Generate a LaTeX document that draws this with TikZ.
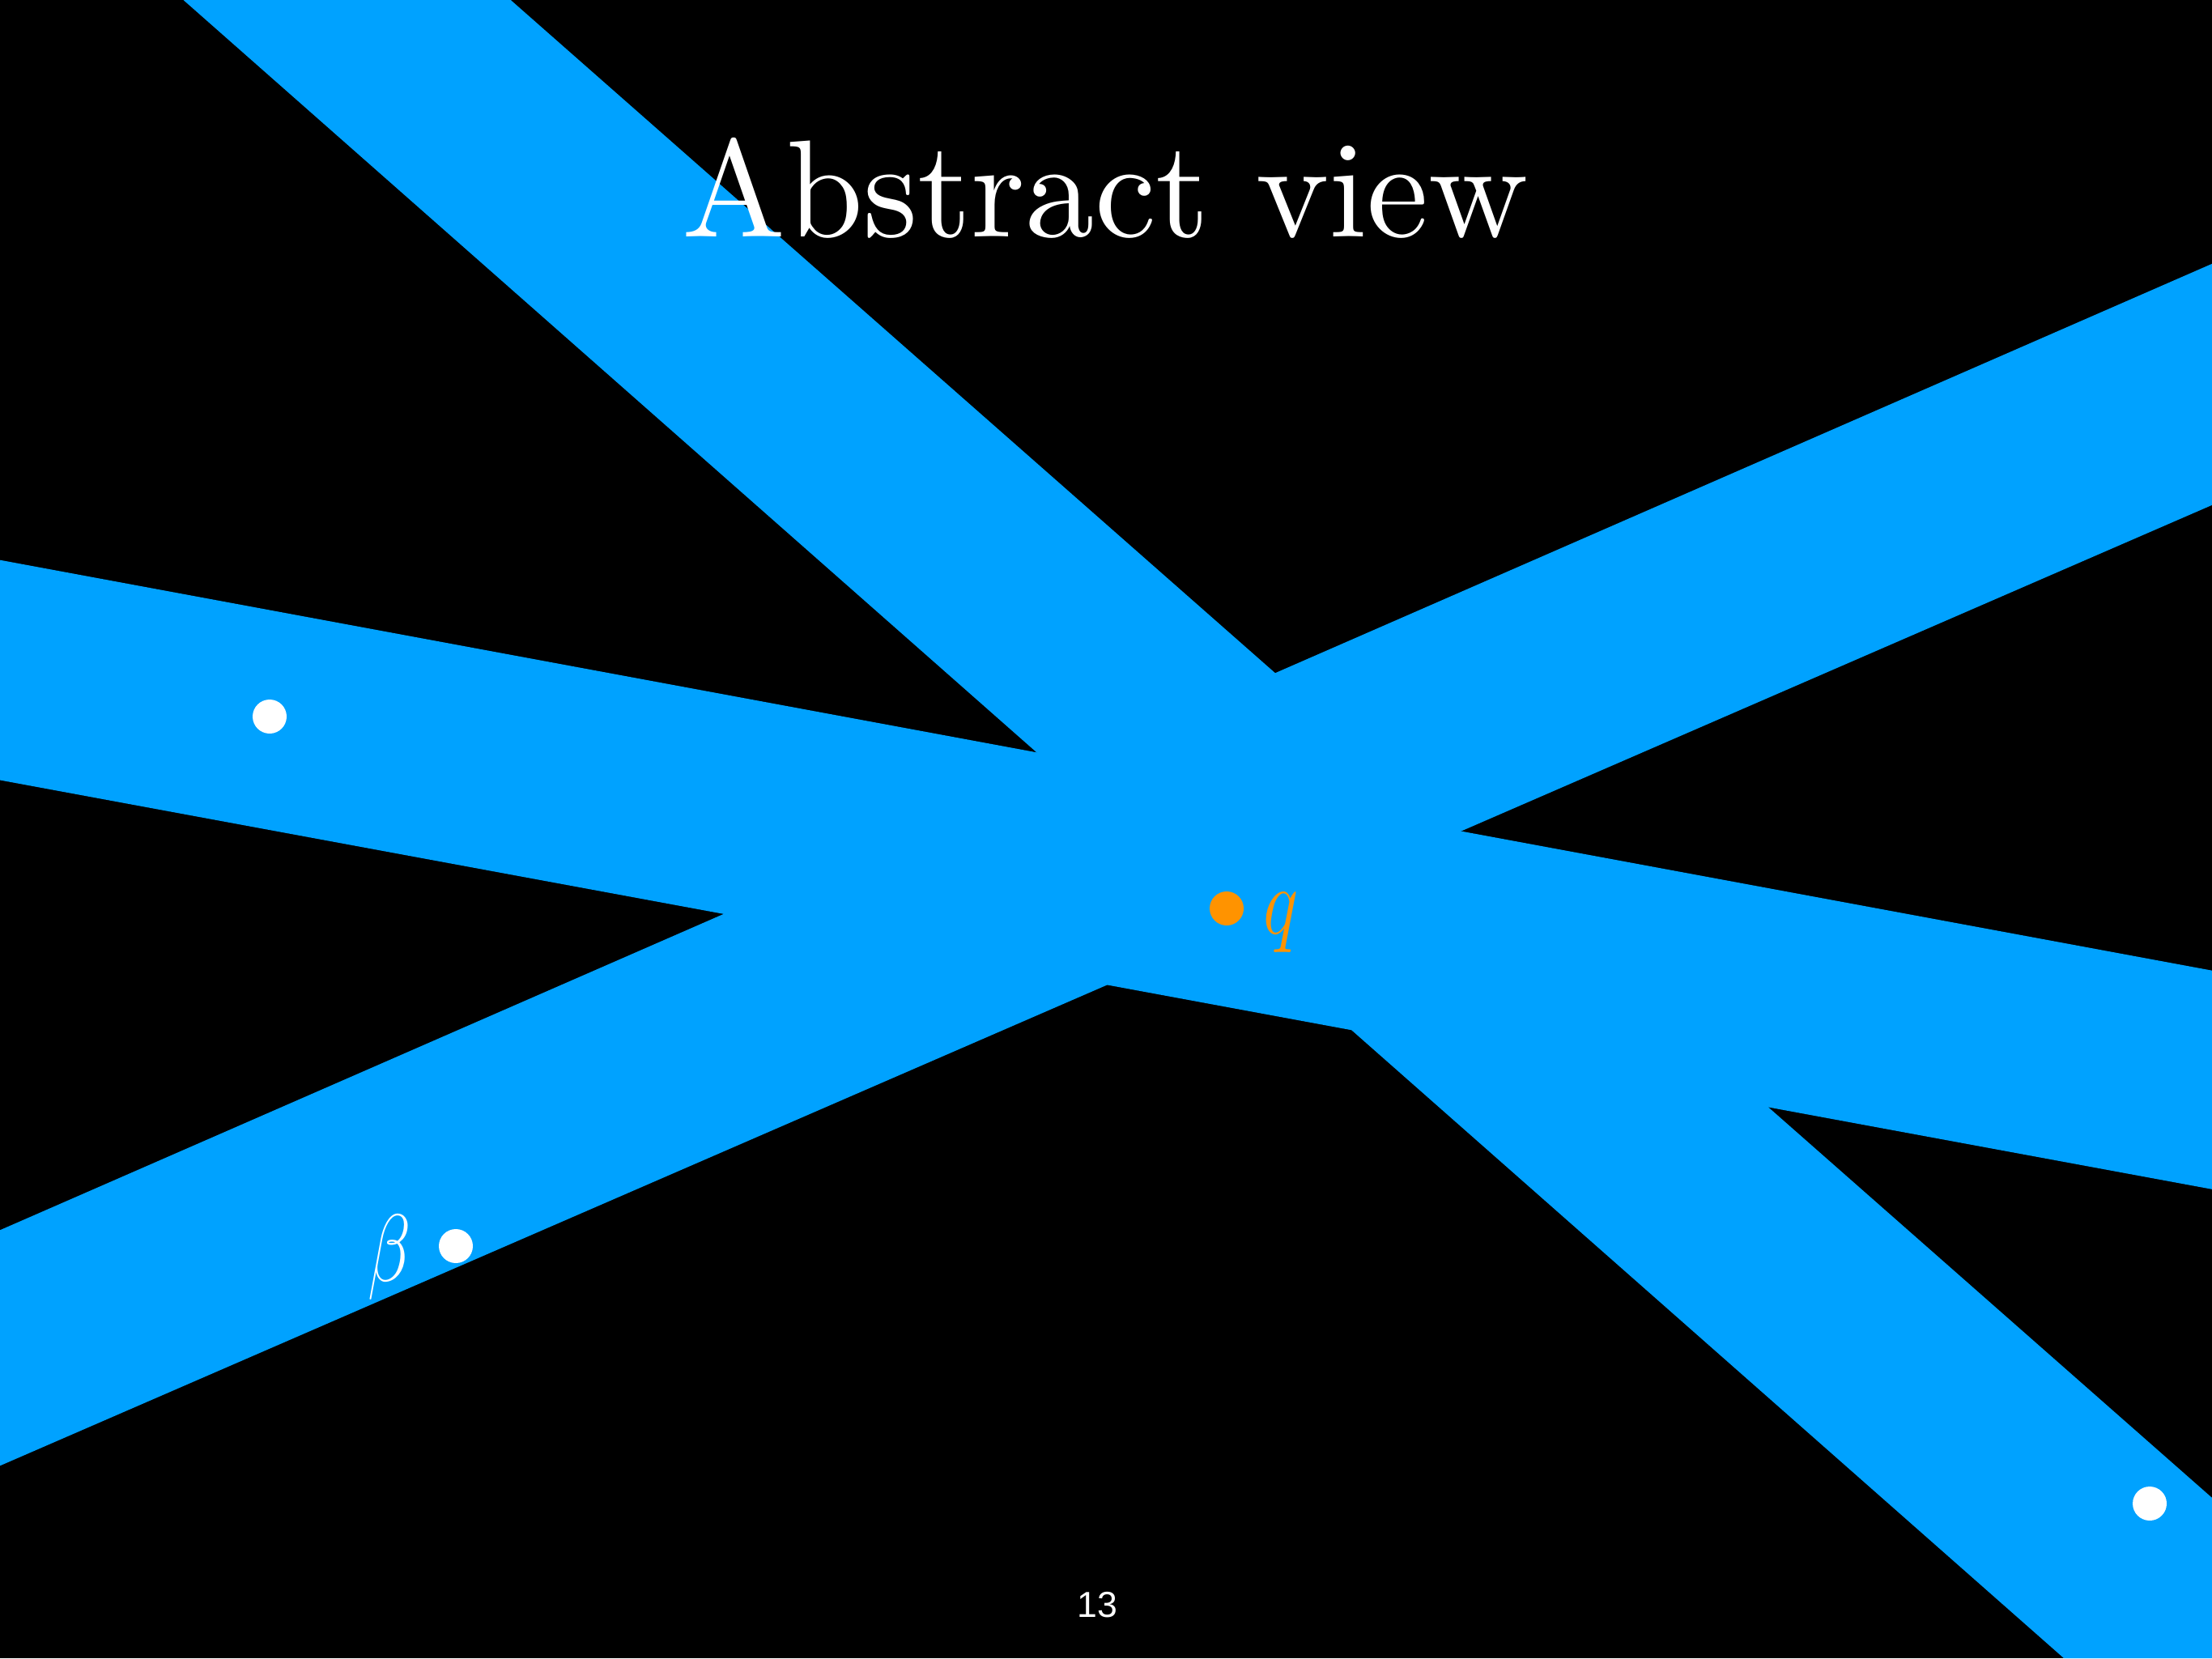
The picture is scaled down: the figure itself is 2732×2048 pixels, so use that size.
\documentclass[tikz,border=0pt]{standalone}
\usepackage{fontspec}
\usepackage{graphicx}
\newfontfamily\pagefont{Liberation Sans}
\newfontfamily\titlefont{lmroman10-regular}[Extension=.otf]
\definecolor{bandblue}{RGB}{0,162,255}
\definecolor{qorange}{RGB}{255,147,0}
\tikzset{
  band/.style={fill=bandblue, draw=none},
  dot/.style={circle, fill=#1, draw=none, minimum size=4.2mm, inner sep=0pt},
  lbl/.style={inner sep=0pt, anchor=base}
}
\begin{document}
\begin{tikzpicture}[x=0.1mm, y=-0.1mm]
  \fill[black] (0,0) rectangle (2732,2048);
  \useasboundingbox (0,0) rectangle (2732,2048);
  \begin{scope}
    \clip (0,0) rectangle (2732,2048);
    % band 1 (diagonal down-right)
    \fill[band] (226.5,0) -- (630.7,0) -- (2957,2048) -- (2549,2048) -- cycle;
    % band 2 (near horizontal)
    \fill[band] (0,691.7) -- (2732,1198.7) -- (2732,1468.8) -- (0,963.5) -- cycle;
    % band 3 (rising)
    \fill[band] (0,1519.3) -- (2732,325.8) -- (2732,623.8) -- (0,1810.3) -- cycle;
  \end{scope}
  % title
  \node[lbl, text=white] (title) at (1365.5,293) {\titlefont\fontsize{48.6}{58}\selectfont Abstract view};
  % dots
  \node[dot=white] (p1) at (333,885) {};
  \node[dot=white] (p2) at (563,1539) {};
  \node[dot=white] (p3) at (2655,1857) {};
  \node[dot=qorange] (q) at (1515,1122) {};
  % labels
  \node[lbl, anchor=base west, text=qorange] (qlabel) at (1560,1153) {\scalebox{1.05}[1.35]{\fontsize{36}{42}\selectfont $q$}};
  \node[lbl, text=white] (beta) at (481,1582) {\scalebox{1.0}[1.35]{\fontsize{36}{42}\selectfont $\beta$}};
  % page number
  \node[lbl, text=white] (page) at (1355,1997) {\pagefont\fontsize{12.7}{15}\selectfont 13};
\end{tikzpicture}
\end{document}
